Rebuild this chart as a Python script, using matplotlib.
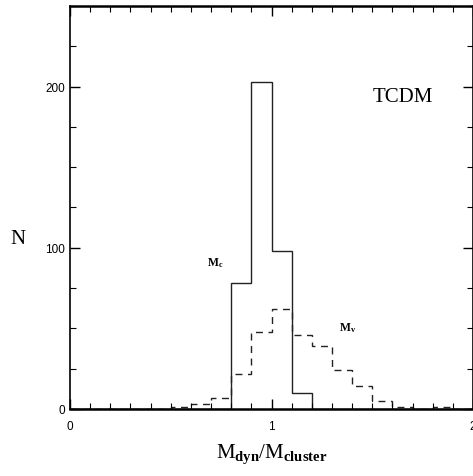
import numpy as np
import matplotlib
matplotlib.use("Agg")
import matplotlib.pyplot as plt
from matplotlib.ticker import MultipleLocator

# bin edges (width 0.1) and counts
edges = np.round(np.arange(0.0, 2.01, 0.1), 2)
n_c = [0, 0, 0, 0, 0, 0, 0, 0, 78, 203, 98, 10, 0, 0, 0, 0, 0, 0, 0, 0]
n_v = [0, 0, 0, 0, 0, 1, 3, 7, 22, 48, 62, 46, 39, 24, 14, 5, 1, 0, 1, 0]

plt.rcParams['mathtext.fontset'] = 'custom'
plt.rcParams['mathtext.rm'] = 'Liberation Serif'
plt.rcParams['mathtext.bf'] = 'Liberation Serif:bold'
plt.rcParams['mathtext.it'] = 'Liberation Serif:italic'

fig = plt.figure(figsize=(4.73, 4.77), dpi=100)
ax = fig.add_axes([0.148, 0.1405, 0.852, 0.8448])

ax.stairs(n_c, edges, color='#222222', lw=1.0)
ax.stairs(n_v, edges, color='#222222', lw=1.0, linestyle=(0, (5, 4)))

ax.set_xlim(0, 2)
ax.set_ylim(0, 250)

ax.xaxis.set_major_locator(MultipleLocator(1))
ax.xaxis.set_minor_locator(MultipleLocator(0.1))
ax.yaxis.set_major_locator(MultipleLocator(100))
ax.yaxis.set_minor_locator(MultipleLocator(25))
ax.tick_params(which='both', direction='in', top=True, right=True,
               labelsize=8.5, labelfontfamily='Liberation Sans')
ax.tick_params(which='major', length=7, width=1)
ax.tick_params(which='minor', length=4, width=0.8)
ax.tick_params(axis='x', which='major', pad=8)

for s in ['top', 'bottom']:
    ax.spines[s].set_linewidth(1.8)
ax.spines['left'].set_linewidth(1.2)
ax.spines['right'].set_linewidth(1.2)

ax.set_xlabel(r'$\mathrm{M}_{\mathbf{dyn}}/\mathrm{M}_{\mathbf{cluster}}$',
              fontsize=15)
ax.xaxis.set_label_coords(0.5, -0.08)
ax.set_ylabel('N', fontsize=15, family='Liberation Serif', rotation=0,
              va='center', ha='center')
ax.yaxis.set_label_coords(-0.129, 0.422)

ax.text(1.65, 194, 'TCDM', fontsize=15, family='Liberation Serif',
        ha='center', va='center')
ax.text(0.72, 91, r'$\mathbf{M}_{\mathbf{c}}$', fontsize=8.5, ha='center', va='center')
ax.text(1.38, 51, r'$\mathbf{M}_{\mathbf{v}}$', fontsize=8.5, ha='center', va='center')

fig.savefig('out.png', dpi=100)
